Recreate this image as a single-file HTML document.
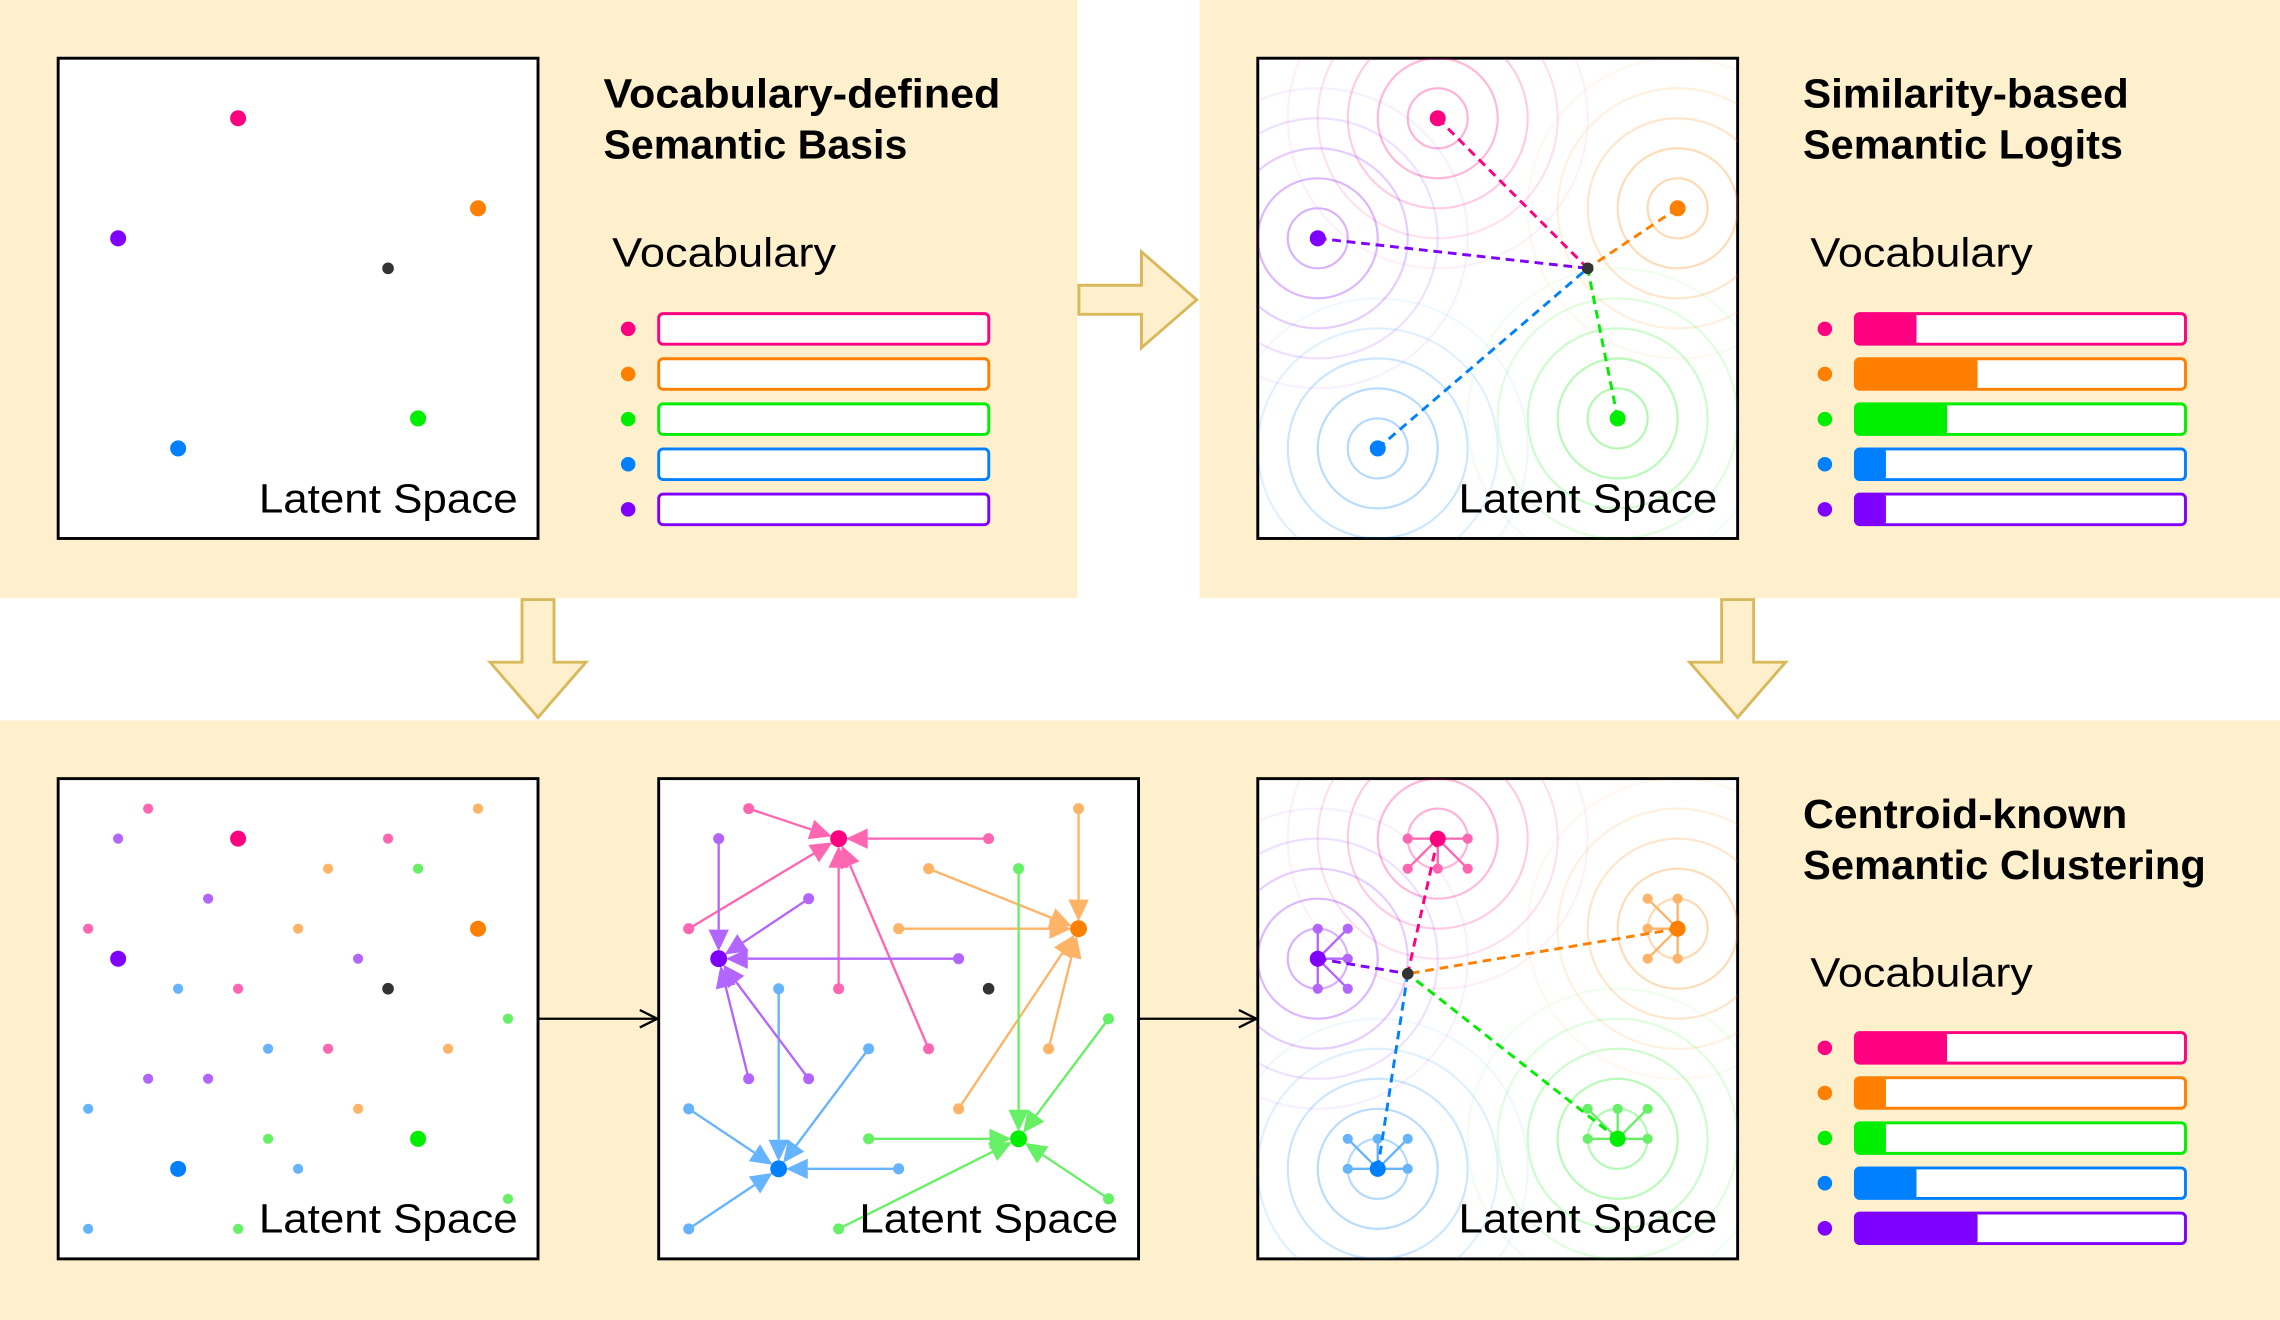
<!DOCTYPE html>
<html><head><meta charset="utf-8"><style>
html,body{margin:0;padding:0;background:#fff;}
svg{display:block;}
text{font-family:"Liberation Sans",sans-serif;fill:#000;}
</style></head><body>
<svg id="s" width="2280" height="1320" viewBox="0 0 1568 907" preserveAspectRatio="none" xmlns="http://www.w3.org/2000/svg">
<defs>
<clipPath id="c1"><rect x="865" y="40" width="330" height="330"/></clipPath>
<clipPath id="c2"><rect x="865" y="535" width="330" height="330"/></clipPath>
</defs>
<rect x="0" y="0" width="741" height="411" fill="#fef0cc"/>
<rect x="825" y="0" width="743" height="411" fill="#fef0cc"/>
<rect x="0" y="495" width="1568" height="412" fill="#fef0cc"/>
<g id="g"></g>
<text x="415" y="74" font-size="28" font-weight="bold" textLength="273" lengthAdjust="spacingAndGlyphs">Vocabulary-defined</text>
<text x="415" y="109" font-size="28" font-weight="bold" textLength="209" lengthAdjust="spacingAndGlyphs">Semantic Basis</text>
<text x="421" y="183" font-size="28" textLength="154" lengthAdjust="spacingAndGlyphs">Vocabulary</text>
<text x="1240" y="74" font-size="28" font-weight="bold" textLength="224" lengthAdjust="spacingAndGlyphs">Similarity-based</text>
<text x="1240" y="109" font-size="28" font-weight="bold" textLength="220" lengthAdjust="spacingAndGlyphs">Semantic Logits</text>
<text x="1245" y="183" font-size="28" textLength="153" lengthAdjust="spacingAndGlyphs">Vocabulary</text>
<text x="1240" y="569" font-size="28" font-weight="bold" textLength="223" lengthAdjust="spacingAndGlyphs">Centroid-known</text>
<text x="1240" y="604" font-size="28" font-weight="bold" textLength="277" lengthAdjust="spacingAndGlyphs">Semantic Clustering</text>
<text x="1245" y="678" font-size="28" textLength="153" lengthAdjust="spacingAndGlyphs">Vocabulary</text>
</svg>
<script>
const NS="http://www.w3.org/2000/svg",G=document.getElementById('g');
function el(t,a,p){const e=document.createElementNS(NS,t);for(const k in a)e.setAttribute(k,a[k]);(p||G).appendChild(e);return e;}
const S=20.625;
const C={pk:'#ff0080',or:'#ff8000',gr:'#00ee00',bl:'#0080ff',pu:'#8000ff'};
const L={pk:'#ff66b2',or:'#ffb366',gr:'#66f066',bl:'#66b3ff',pu:'#b366ff'};
const cen={pk:[6,2],or:[14,5],pu:[2,6],gr:[12,12],bl:[4,13]};
const sm={pk:[[3,1],[11,2],[1,5],[6,7],[9,9]],pu:[[2,2],[5,4],[10,6],[3,10],[5,10]],or:[[14,1],[9,3],[8,5],[13,9],[10,11]],bl:[[4,7],[7,9],[1,11],[8,13],[1,15]],gr:[[12,3],[15,8],[7,12],[15,14],[6,15]]};
const sat={pk:[[5,2],[7,2],[5,3],[6,3],[7,3]],pu:[[2,5],[3,5],[3,6],[2,7],[3,7]],or:[[13,4],[14,4],[13,5],[13,6],[14,6]],bl:[[3,12],[4,12],[5,12],[3,13],[5,13]],gr:[[11,11],[12,11],[13,11],[11,12],[13,12]]};
const keys=['pk','or','gr','bl','pu'];
function P(bx,by,g){return [bx+g[0]*S,by+g[1]*S];}
function box(x,y){el('rect',{x:x,y:y,width:330,height:330,fill:'#fff',stroke:'#000','stroke-width':2});}
function label(x,y){const t=el('text',{x:x+138,y:y+312,'font-size':28,textLength:178,lengthAdjust:'spacingAndGlyphs'});t.textContent='Latent Space';}
function rings(bx,by,clip){const g=el('g',{'clip-path':'url(#'+clip+')'});const op=[0.3,0.28,0.2,0.12,0.06];
 for(const k of keys){const p=P(bx,by,cen[k]);for(let i=0;i<5;i++)el('circle',{cx:p[0],cy:p[1],r:S*(i+1),fill:'none',stroke:C[k],'stroke-opacity':op[i],'stroke-width':1.5},g);}}
function vocab(x,y,fills){for(let i=0;i<5;i++){const k=keys[i],cy=y+i*31;el('circle',{cx:x,cy:cy,r:5,fill:C[k]});
 el('rect',{x:x+21,y:cy-10.5,width:227,height:21,rx:3,fill:'#fff'});
 if(fills[i])el('rect',{x:x+21,y:cy-10.5,width:fills[i],height:21,rx:2,fill:C[k]});
 el('rect',{x:x+21,y:cy-10.5,width:227,height:21,rx:3,fill:'none',stroke:C[k],'stroke-width':2});}}
const AC='#d9b95c',AF='#fef0cc';
el('polygon',{points:'742,196 785,196 785,173 823,206 785,239 785,216 742,216',fill:AF,stroke:AC,'stroke-width':2});
for(const cx of [370,1195])el('polygon',{points:`${cx-11},412 ${cx+11},412 ${cx+11},455 ${cx+33},455 ${cx},493 ${cx-33},455 ${cx-11},455`,fill:AF,stroke:AC,'stroke-width':2});
for(const [a,b] of [[370,452],[783,864]]){el('line',{x1:a,y1:700,x2:b,y2:700,stroke:'#000','stroke-width':1.6});
 el('polyline',{points:`${b-12},694 ${b},700 ${b-12},706`,fill:'none',stroke:'#000','stroke-width':1.6});}
box(40,40);
for(const k of keys){const p=P(40,40,cen[k]);el('circle',{cx:p[0],cy:p[1],r:5.5,fill:C[k]});}
el('circle',{cx:40+11*S,cy:40+7*S,r:4,fill:'#333'});
label(40,40);
vocab(432,226,[0,0,0,0,0]);
box(865,40);rings(865,40,'c1');
const b2=[865+11*S,40+7*S];
for(const k of keys){const p=P(865,40,cen[k]);el('line',{x1:p[0],y1:p[1],x2:b2[0],y2:b2[1],stroke:C[k],'stroke-width':2,'stroke-dasharray':'6 4'});}
for(const k of keys){const p=P(865,40,cen[k]);el('circle',{cx:p[0],cy:p[1],r:5.5,fill:C[k]});}
el('circle',{cx:b2[0],cy:b2[1],r:4,fill:'#333'});
label(865,40);
vocab(1255,226,[42,84,63,21,21]);
box(40,535);
for(const k of keys){for(const g of sm[k]){const p=P(40,535,g);el('circle',{cx:p[0],cy:p[1],r:3.5,fill:L[k]});}
 const p=P(40,535,cen[k]);el('circle',{cx:p[0],cy:p[1],r:5.5,fill:C[k]});}
el('circle',{cx:40+11*S,cy:535+7*S,r:4,fill:'#333'});
label(40,535);
box(453,535);
for(const k of keys){const c=P(453,535,cen[k]);
 for(const g of sm[k]){const p=P(453,535,g);const dx=c[0]-p[0],dy=c[1]-p[1],d=Math.hypot(dx,dy),ux=dx/d,uy=dy/d;
  const tx=c[0]-ux*5,ty=c[1]-uy*5,hx=tx-ux*15,hy=ty-uy*15;
  el('line',{x1:p[0],y1:p[1],x2:hx,y2:hy,stroke:L[k],'stroke-width':1.6});
  el('polygon',{points:`${tx},${ty} ${hx-uy*7},${hy+ux*7} ${hx+uy*7},${hy-ux*7}`,fill:L[k]});
  el('circle',{cx:p[0],cy:p[1],r:3.8,fill:L[k]});}
}
for(const k of keys){const c=P(453,535,cen[k]);el('circle',{cx:c[0],cy:c[1],r:5.8,fill:C[k]});}
el('circle',{cx:453+11*S,cy:535+7*S,r:4,fill:'#333'});
label(453,535);
box(865,535);rings(865,535,'c2');
const b5=[865+5*S,535+6.5*S];
for(const k of keys){const c=P(865,535,cen[k]);
 for(const g of sat[k]){const p=P(865,535,g);el('line',{x1:c[0],y1:c[1],x2:p[0],y2:p[1],stroke:L[k],'stroke-width':1.6});el('circle',{cx:p[0],cy:p[1],r:3.5,fill:L[k]});}}
for(const k of keys){const c=P(865,535,cen[k]);el('line',{x1:c[0],y1:c[1],x2:b5[0],y2:b5[1],stroke:C[k],'stroke-width':2,'stroke-dasharray':'6 4'});}
for(const k of keys){const c=P(865,535,cen[k]);el('circle',{cx:c[0],cy:c[1],r:5.5,fill:C[k]});}
el('circle',{cx:b5[0],cy:b5[1],r:4,fill:'#333'});
label(865,535);
vocab(1255,720,[63,21,21,42,84]);
</script>
</body></html>
